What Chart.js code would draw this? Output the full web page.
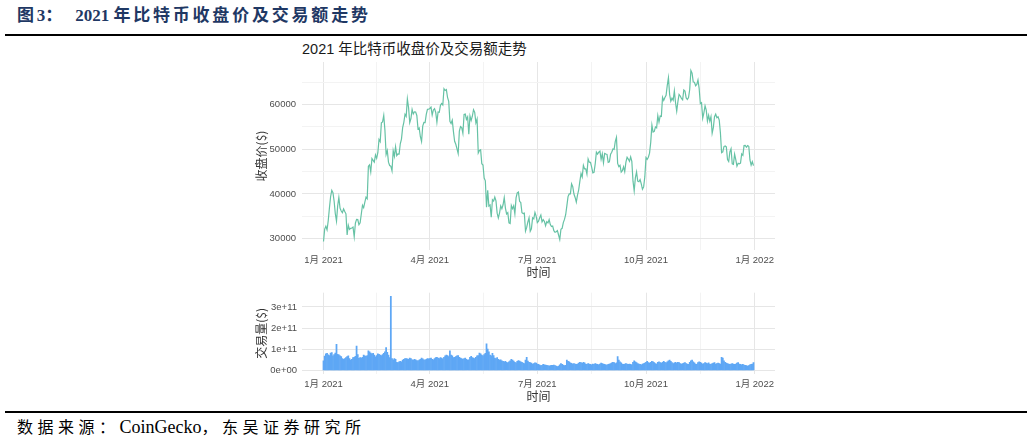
<!DOCTYPE html>
<html>
<head>
<meta charset="utf-8">
<script src="https://cdn.jsdelivr.net/npm/chart.js@4.4.1/dist/chart.umd.min.js"></script>
<style>
body { margin: 0; width: 1032px; height: 443px; background: #fff; position: relative; overflow: hidden; }
#fig-title { position: absolute; left: 17px; top: 7px; font: bold 17px/18px 'Liberation Serif', 'Noto Sans CJK SC', serif; color: #1f3864; white-space: nowrap; }
#fig-title .cjk { letter-spacing: 2.8px; }
#fig-title .gap { margin-right: 10px; }
.rule { position: absolute; left: 5px; width: 1022px; height: 2px; background: #000; }
#chart-title { position: absolute; left: 302px; top: 41px; font: 14.5px/16px 'Liberation Sans', 'Noto Sans CJK SC', sans-serif; color: #1a1a1a; white-space: nowrap; }
#priceChart { position: absolute; left: 240px; top: 40px; }
#volumeChart { position: absolute; left: 240px; top: 282px; }
#source { position: absolute; left: 17px; top: 418px; font: 18px/18px 'Liberation Serif', 'Noto Sans CJK SC', serif; color: #000; white-space: nowrap; }
#source .cjk { font-size: 16px; letter-spacing: 4.5px; }
</style>
</head>
<body>
<div id="fig-title"><span class="cjk">图</span>3<span class="cjk gap">：</span>2021&nbsp;<span class="cjk">年比特币收盘价及交易额走势</span></div>
<div class="rule" style="top:34px"></div>
<div id="chart-title">2021 年比特币收盘价及交易额走势</div>
<canvas id="priceChart" width="550" height="240"></canvas>
<canvas id="volumeChart" width="550" height="122"></canvas>
<div class="rule" style="top:411px"></div>
<div id="source"><span class="cjk">数据来源：</span>CoinGecko<span class="cjk">，东吴证券研究所</span></div>

<script>
// daily close, 2021-01-01 .. 2021-12-31 (USD)
const closePrice = [
  29374, 32127, 32782, 31971, 33992, 36824, 39371, 40797, 40254, 38356, 35566, 33922, 37316, 39187, 36825, 36178,
  35792, 36630, 36069, 35547, 30825, 33005, 32067, 32289, 32366, 32569, 30432, 33466, 34316, 34269, 33114,
  33538, 35510, 37472, 36926, 38144, 39266, 38903, 46196, 46481, 44918, 47909, 47504, 47105, 48717, 47945, 49199,
  52149, 51679, 55888, 56099, 57539, 54207, 48824, 49705, 47093, 46339, 46188, 45137,
  49631, 48378, 50538, 48561, 48927, 48912, 51206, 52246, 54824, 56008, 57805, 57332, 61243, 59302, 55907, 56804,
  58870, 57858, 58346, 58313, 57523, 54529, 54738, 52774, 51704, 55137, 55974, 55947, 57750, 58917, 58918,
  59095, 59384, 57603, 58758, 59057, 58192, 56048, 58323, 58245, 59793, 60204, 59893, 63503, 63109, 63314, 61572,
  60683, 56216, 55724, 56473, 53906, 51762, 51093, 50050, 49004, 54021, 55033, 54824, 53555, 57750,
  57828, 56631, 57200, 53333, 57424, 56396, 57356, 58803, 58232, 55859, 56704, 49150, 49716, 49880, 46760, 46456,
  43537, 42909, 37002, 40782, 37304, 37536, 34770, 38705, 38402, 39294, 38436, 35698, 34616, 35678, 37332,
  36684, 37575, 39188, 36825, 35520, 35797, 33552, 33403, 37389, 36702, 37334, 35553, 39097, 40219, 40406, 38347,
  38053, 35787, 35615, 35698, 31676, 32505, 33723, 34663, 31637, 32186, 34649, 34434, 35867, 35040,
  33572, 33897, 34668, 35287, 33746, 34235, 33855, 32877, 33798, 33520, 34240, 33155, 32702, 32822, 31780, 31421,
  31533, 31796, 30817, 29807, 32110, 32313, 33581, 34292, 35350, 37337, 39406, 39995, 40008, 42235, 41626,
  39974, 39201, 38152, 39747, 40869, 42816, 44555, 43798, 46365, 45585, 45593, 44428, 47793, 47096, 47047, 46004,
  44695, 44801, 46717, 49339, 48905, 49321, 49546, 47706, 48960, 46942, 49058, 48902, 48830, 47054, 47166,
  48847, 49327, 50025, 49944, 51753, 52633, 46811, 46091, 46391, 44883, 45201, 46063, 44963, 47093, 48176, 47783,
  47268, 48278, 47260, 42843, 40693, 43574, 44896, 42839, 42716, 43208, 42235, 41034, 41564, 43790,
  48116, 47711, 48199, 49112, 51514, 55361, 53805, 53967, 54968, 54771, 57484, 56041, 57401, 57321, 61593, 60892,
  61553, 62026, 64261, 65992, 62210, 60692, 61393, 60930, 63039, 60363, 58482, 60622, 62227, 61888, 61318,
  61004, 63226, 62970, 61452, 61125, 61527, 63326, 67566, 66971, 64995, 64949, 64155, 64469, 65466, 63557, 60161,
  60368, 56942, 58119, 59697, 58730, 56289, 57569, 56280, 57274, 53569, 54815, 57248, 57806, 57005,
  57229, 56477, 53598, 49200, 49368, 50582, 50700, 50504, 47672, 47243, 49362, 50098, 46737, 46612, 48896, 47665,
  46202, 46848, 46707, 46880, 48936, 48628, 50784, 50822, 50429, 50809, 50640, 47588, 46444, 47178, 46306
];

// daily volume, billions of USD
const volumeBillion = [
  45, 67, 78, 80, 73, 70, 81, 84, 68, 75, 82, 123, 76, 73, 69, 65, 55, 52, 55, 60, 65, 68, 55, 48, 52, 60, 62, 66, 115, 75, 57,
  60, 58, 62, 72, 68, 66, 70, 92, 88, 82, 78, 80, 72, 64, 70, 78, 76, 72, 70, 75, 80, 88, 108, 85, 72, 60, 350, 55,
  50, 55, 52, 38, 36, 40, 42, 40, 48, 52, 55, 56, 54, 52, 58, 55, 50, 48, 52, 50, 46, 45, 48, 52, 58, 54, 50, 48, 52, 55, 54,
  55, 58, 52, 50, 56, 60, 62, 58, 55, 60, 58, 54, 62, 68, 72, 70, 65, 92, 72, 68, 60, 62, 65, 68, 70, 62, 58, 55, 52, 55,
  58, 52, 48, 50, 62, 66, 60, 58, 55, 62, 68, 70, 82, 78, 72, 68, 75, 80, 125, 100, 88, 72, 68, 80, 70, 58, 55, 60, 52, 48, 50,
  45, 42, 40, 43, 38, 35, 40, 45, 52, 48, 44, 38, 35, 42, 46, 44, 40, 38, 34, 32, 48, 62, 44, 38, 36, 34, 30, 32, 35, 34,
  30, 28, 25, 22, 24, 28, 26, 25, 24, 22, 20, 22, 24, 23, 25, 22, 20, 18, 20, 26, 32, 28, 25, 22, 24, 48, 42, 40, 35, 33, 30,
  32, 30, 28, 30, 34, 38, 36, 33, 38, 35, 30, 28, 32, 30, 28, 26, 30, 28, 32, 30, 28, 26, 30, 34, 32, 30, 28, 26, 25, 28, 30,
  32, 35, 38, 36, 32, 35, 65, 48, 40, 35, 30, 28, 30, 32, 30, 28, 30, 28, 26, 38, 45, 40, 36, 32, 30, 28, 26, 30, 32, 34,
  38, 42, 36, 34, 38, 42, 40, 36, 32, 30, 38, 40, 36, 34, 38, 42, 38, 35, 40, 45, 48, 42, 36, 32, 35, 38, 34, 38, 36, 32, 30,
  32, 34, 36, 32, 30, 28, 38, 45, 48, 40, 35, 30, 28, 36, 40, 38, 34, 30, 32, 36, 34, 32, 35, 30, 28, 32, 34, 36, 30, 32,
  34, 32, 30, 62, 58, 45, 38, 34, 32, 30, 28, 30, 32, 30, 28, 30, 34, 36, 30, 28, 26, 28, 25, 24, 22, 20, 22, 26, 28, 30, 36
];

// x axis: days since 2021-01-01
const xMajorDays = [0, 90, 181, 273, 365];
const xMajorLabels = ['1月 2021', '4月 2021', '7月 2021', '10月 2021', '1月 2022'];
const xMinorDays = [45, 135.5, 227, 319];

const priceMajor = [30000, 40000, 50000, 60000];
const priceMinor = [35000, 45000, 55000, 65000];
const volumeMajor = [0, 1e11, 2e11, 3e11];
const volumeMajorLabels = ['0e+00', '1e+11', '2e+11', '3e+11'];
const volumeMinor = [5e10, 1.5e11, 2.5e11, 3.5e11];

const tickFont = { family: "'Liberation Sans', 'Noto Sans CJK SC', sans-serif", size: 9.5 };
const titleFont = { family: "'Noto Sans CJK SC', sans-serif", size: 12 };

function gridColor(ctx, majors) {
    if (!ctx.tick) return '#ebebeb';
    return majors.includes(ctx.tick.value) ? '#e6e6e6' : '#f3f3f3';
}

function setTicks(list) {
    return axis => { axis.ticks = list.slice().sort((a, b) => a - b).map(v => ({ value: v })); };
}

function timeAxis() {
    return {
        type: 'linear',
        min: -18.2,
        max: 382.2,
        offset: false,
        afterBuildTicks: setTicks([...xMajorDays, ...xMinorDays]),
        afterFit: axis => { axis.height = 30; },
        ticks: {
            autoSkip: false,
            maxRotation: 0,
            padding: 5,
            color: '#4d4d4d',
            font: tickFont,
            callback: v => {
                const i = xMajorDays.indexOf(v);
                return i >= 0 ? xMajorLabels[i] : '';
            }
        },
        grid: { offset: false, drawTicks: false, color: ctx => gridColor(ctx, xMajorDays) },
        border: { display: false },
        title: { display: true, text: '时间', color: '#333', font: titleFont, padding: 0 }
    };
}

const commonPlugins = { legend: { display: false }, tooltip: { enabled: false } };

// price line
new Chart(document.getElementById('priceChart'), {
    type: 'line',
    data: {
        datasets: [{
            data: closePrice.map((p, i) => ({ x: i, y: p })),
            borderColor: '#66c2a5',
            borderWidth: 1.2,
            pointRadius: 0,
            tension: 0,
            fill: false
        }]
    },
    options: {
        responsive: false,
        animation: false,
        devicePixelRatio: 1,
        layout: { padding: { left: 14, top: 22, right: 15, bottom: 0 } },
        plugins: commonPlugins,
        scales: {
            x: timeAxis(),
            y: {
                min: 27464,
                max: 69476,
                afterBuildTicks: setTicks([...priceMajor, ...priceMinor]),
                afterFit: axis => { axis.width = 48; },
                ticks: {
                    padding: 6,
                    color: '#4d4d4d',
                    font: tickFont,
                    callback: v => priceMajor.includes(v) ? String(v) : ''
                },
                grid: { drawTicks: false, color: ctx => gridColor(ctx, priceMajor) },
                border: { display: false },
                title: { display: true, text: '收盘价($)', color: '#333', font: titleFont, padding: 0 }
            }
        }
    }
});

// volume bars
new Chart(document.getElementById('volumeChart'), {
    type: 'bar',
    data: {
        datasets: [{
            data: volumeBillion.map((v, i) => ({ x: i, y: v * 1e9 })),
            backgroundColor: '#5ea7f5',
            borderWidth: 0,
            barThickness: 1.1
        }]
    },
    options: {
        responsive: false,
        animation: false,
        devicePixelRatio: 1,
        layout: { padding: { left: 14, top: 10, right: 15, bottom: 0 } },
        plugins: commonPlugins,
        scales: {
            x: timeAxis(),
            y: {
                min: -1.75e10,
                max: 3.675e11,
                afterBuildTicks: setTicks([...volumeMajor, ...volumeMinor]),
                afterFit: axis => { axis.width = 48; },
                ticks: {
                    padding: 5,
                    color: '#4d4d4d',
                    font: tickFont,
                    callback: v => {
                        const i = volumeMajor.indexOf(v);
                        return i >= 0 ? volumeMajorLabels[i] : '';
                    }
                },
                grid: { drawTicks: false, color: ctx => gridColor(ctx, volumeMajor) },
                border: { display: false },
                title: { display: true, text: '交易量($)', color: '#333', font: titleFont, padding: 0 }
            }
        }
    }
});
</script>
</body>
</html>
